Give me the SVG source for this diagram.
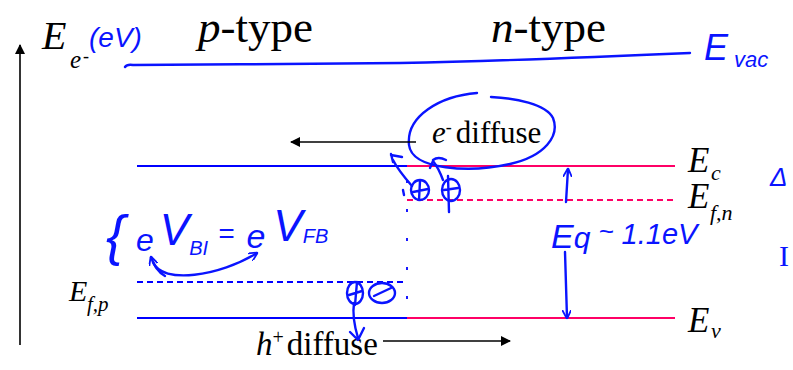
<svg xmlns="http://www.w3.org/2000/svg" width="793" height="370" viewBox="0 0 793 370">
<style>
.t{font-family:"Liberation Serif","Times New Roman",serif;fill:#000}
.i{font-style:italic}
.h{font-family:"Liberation Sans",Arial,sans-serif;font-style:italic;fill:#0a14ff}
.hs{font-family:"Liberation Serif","Times New Roman",serif;fill:#0a14ff}
.lvb{stroke:#0000ff;stroke-width:2;fill:none}
.lvr{stroke:#ff0066;stroke-width:2;fill:none}
.dash{stroke-dasharray:6,4}
.ink{stroke:#0a14ff;stroke-width:2.4;fill:none;stroke-linecap:round;stroke-linejoin:round}
.ax{stroke:#000;stroke-width:1.6;fill:none}
</style>
<defs>
<marker id="ah" viewBox="0 0 10 10" refX="9" refY="5" markerWidth="12" markerHeight="10" markerUnits="userSpaceOnUse" orient="auto">
<path d="M0,0 L10,5 L0,10 Z" fill="#000"/>
</marker>
<marker id="inkArrow" viewBox="0 0 10 10" refX="9" refY="5" markerWidth="9" markerHeight="9" markerUnits="userSpaceOnUse" orient="auto">
<path d="M0,0 L10,5 L0,10" fill="none" stroke="#0a14ff" stroke-width="2"/>
</marker>
</defs>
<rect width="793" height="370" fill="#fff"/>

<g id="axis">
<line class="ax" x1="20" y1="345" x2="20" y2="45" marker-end="url(#ah)"/>
<text class="t i" x="42" y="49" font-size="40">E</text>
<text class="t i" x="70" y="68" font-size="25">e</text>
<text class="t" x="83" y="62" font-size="18">-</text>
<text class="h" x="89" y="47" font-size="28">(eV)</text>
</g>

<g id="titles">
<text class="t" x="198" y="42" font-size="45"><tspan class="i">p</tspan>-type</text>
<text class="t" x="491" y="42" font-size="45"><tspan class="i">n</tspan>-type</text>
</g>

<g id="vacuum">
<path class="ink" d="M125,67 Q127,64 133,65 C220,65 320,63 400,63 C500,61 600,57 690,53"/>
<text class="h" x="704" y="60" font-size="36">E</text>
<text class="h" x="734" y="67" font-size="22">vac</text>
</g>

<g id="levels">
<line class="lvb" x1="137" y1="166" x2="407" y2="166"/>
<line class="lvr" x1="407" y1="166" x2="675" y2="166"/>
<line class="lvr dash" x1="407" y1="200" x2="675" y2="200"/>
<line class="lvb dash" x1="137" y1="282" x2="405" y2="282"/>
<line class="lvb" x1="137" y1="318" x2="407" y2="318"/>
<line class="lvr" x1="407" y1="318" x2="675" y2="318"/>
<line x1="407" y1="180" x2="407" y2="316" stroke="#0000ff" stroke-width="1.8" stroke-dasharray="3,26"/>
</g>

<g id="level-labels">
<text class="t i" x="688" y="172" font-size="35">E</text>
<text class="t i" x="711" y="180" font-size="22">c</text>
<text class="t i" x="688" y="208" font-size="35">E</text>
<text class="t i" x="710" y="220" font-size="22">f,n</text>
<text class="t i" x="688" y="332" font-size="35">E</text>
<text class="t i" x="711" y="338" font-size="22">v</text>
<text class="t i" x="69" y="301" font-size="30">E</text>
<text class="t i" x="87" y="311" font-size="21">f,p</text>
</g>

<g id="e-diffuse">
<text class="t" x="432" y="143" font-size="31"><tspan class="i">e</tspan><tspan font-size="18" dy="-10">-</tspan><tspan dx="4" dy="10">diffuse</tspan></text>
<path class="ink" d="M477,93 C440,96 406,116 409,145 C412,170 470,173 510,164 C545,156 560,136 553,118 C546,104 515,98 491,97"/>
</g>

<g id="h-diffuse">
<text class="t" x="256" y="355" font-size="33"><tspan class="i">h</tspan><tspan font-size="20" dy="-11">+</tspan><tspan dx="3" dy="11">diffuse</tspan></text>
</g>

<g id="charges-plus">
<ellipse class="ink" cx="420" cy="190" rx="9" ry="10"/>
<path class="ink" d="M413,192 L428,189 M420,181 L419,200"/>
<ellipse class="ink" cx="451" cy="190" rx="9" ry="11"/>
<path class="ink" d="M444,190 L458,188 M448,176 L449,212"/>
<path class="ink" d="M412,186 C405,178 398,170 393,160 M391,154 L393,162 M391,155 L402,157"/>
<path class="ink" d="M443,180 C440,172 437,166 433,161 M433,161 L430,168 M433,160 C437,157 442,158 446,160"/>
<path class="ink" d="M403,190 L404,195"/>
</g>

<g id="charges-minus">
<ellipse class="ink" cx="355" cy="293" rx="8" ry="11"/>
<path class="ink" d="M349,295 L362,291 M357,282 L355,305"/>
<ellipse class="ink" cx="382" cy="293" rx="13" ry="10"/>
<path class="ink" d="M374,296 L391,288"/>
<path class="ink" d="M354,303 C352,316 355,328 358,338 M350,332 L358,340 L364,328"/>
</g>

<g id="builtin">
<text class="h" x="106" y="254" font-size="56" font-style="normal">{</text>
<text class="h" x="136" y="251" font-size="32">e<tspan font-size="44" dx="6" dy="-6">V</tspan><tspan font-size="20" dx="0" dy="10">BI</tspan><tspan font-size="28" dx="10" dy="-12">=</tspan><tspan font-size="34" dx="12" dy="5">e</tspan><tspan font-size="44" dx="8" dy="-7">V</tspan><tspan font-size="20" dx="0" dy="2">FB</tspan></text>
</g>

<g id="gap">
<text class="h" x="551" y="248" font-size="34">E<tspan font-size="30">q</tspan><tspan font-size="26" dx="8" dy="-8">~</tspan><tspan font-size="29" dx="8" dy="4">1.1eV</tspan></text>
</g>

<g id="edge-marks">
<text class="h" x="770" y="186" font-size="26">Δ</text>
<text class="hs" x="779" y="266" font-size="30">I</text>
</g>

<g id="connectors">
<line class="ax" x1="416" y1="142" x2="291" y2="142" marker-end="url(#ah)"/>
<line class="ax" x1="383" y1="341" x2="510" y2="341" marker-end="url(#ah)"/>
<path class="ink" d="M566,202 L568,169" marker-end="url(#inkArrow)"/>
<path class="ink" d="M565,252 L567,318" marker-end="url(#inkArrow)"/>
<path class="ink" d="M153,262 C162,285 220,276 257,253" marker-end="url(#inkArrow)"/>
<path class="ink" d="M165,276 C158,272 154,266 151,257" marker-end="url(#inkArrow)"/>
</g>
</svg>
